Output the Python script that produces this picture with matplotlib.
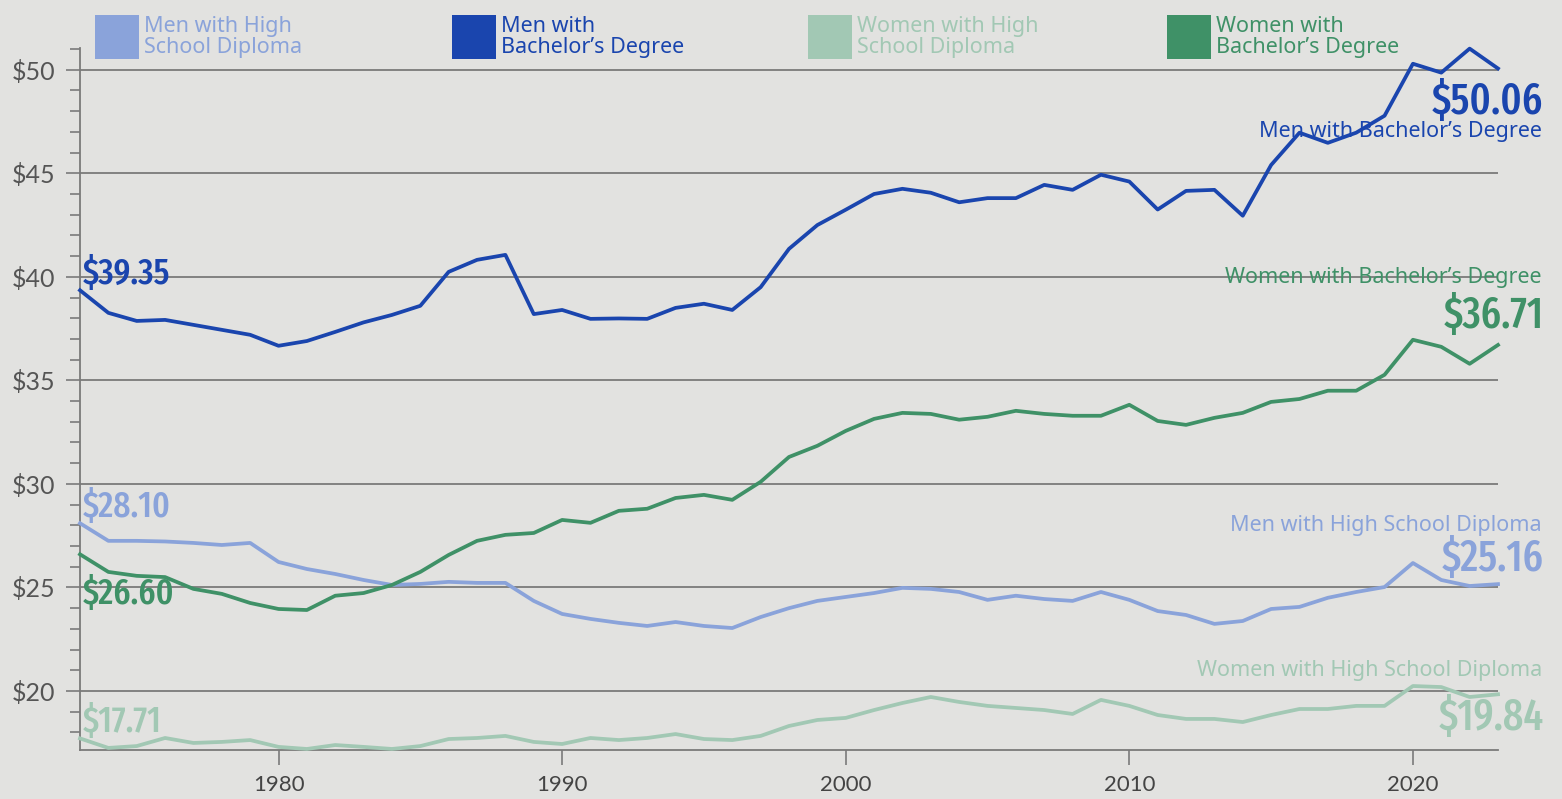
import matplotlib
matplotlib.use('Agg')
import matplotlib.pyplot as plt
from matplotlib import font_manager
from matplotlib.patches import Rectangle
from matplotlib.ticker import MultipleLocator

years = list(range(1973, 2024))

men_hs = [28.10, 27.25, 27.25, 27.22, 27.15, 27.05, 27.15, 26.23, 25.89, 25.65,
          25.36, 25.12, 25.17, 25.27, 25.22, 25.22, 24.35, 23.72, 23.48, 23.29,
          23.14, 23.33, 23.14, 23.04, 23.57, 24.00, 24.35, 24.54, 24.73, 24.98,
          24.93, 24.78, 24.40, 24.60, 24.44, 24.35, 24.78, 24.40, 23.86, 23.67,
          23.24, 23.38, 23.96, 24.06, 24.50, 24.78, 25.02, 26.18, 25.36, 25.07,
          25.16]
men_ba = [39.35, 38.26, 37.87, 37.92, 37.68, 37.44, 37.20, 36.67, 36.90, 37.34,
          37.80, 38.16, 38.60, 40.24, 40.82, 41.06, 38.20, 38.40, 37.97, 37.99,
          37.97, 38.50, 38.70, 38.40, 39.50, 41.35, 42.50, 43.24, 44.00, 44.25,
          44.06, 43.60, 43.80, 43.80, 44.44, 44.20, 44.93, 44.60, 43.25, 44.15,
          44.20, 42.95, 45.40, 46.96, 46.47, 46.96, 47.78, 50.29, 49.86, 51.02,
          50.06]
women_hs = [17.71, 17.25, 17.34, 17.73, 17.49, 17.54, 17.63, 17.30, 17.20, 17.39,
            17.30, 17.20, 17.34, 17.68, 17.73, 17.83, 17.54, 17.44, 17.73, 17.63,
            17.73, 17.92, 17.68, 17.63, 17.83, 18.31, 18.60, 18.70, 19.08, 19.42,
            19.71, 19.47, 19.28, 19.18, 19.08, 18.89, 19.57, 19.28, 18.84, 18.65,
            18.65, 18.50, 18.84, 19.13, 19.13, 19.28, 19.28, 20.24, 20.19, 19.71,
            19.84]
women_ba = [26.60, 25.75, 25.56, 25.50, 24.93, 24.69, 24.25, 23.96, 23.91, 24.60,
            24.73, 25.12, 25.75, 26.57, 27.25, 27.54, 27.63, 28.26, 28.12, 28.70,
            28.80, 29.32, 29.47, 29.23, 30.10, 31.30, 31.84, 32.56, 33.14, 33.43,
            33.38, 33.10, 33.24, 33.53, 33.38, 33.29, 33.29, 33.82, 33.04, 32.85,
            33.19, 33.43, 33.96, 34.10, 34.50, 34.50, 35.27, 36.96, 36.62, 35.80,
            36.71]

names = ["Men with High School Diploma", "Men with Bachelor\u2019s Degree",
         "Women with High School Diploma", "Women with Bachelor\u2019s Degree"]
legend_labels = ["Men with High\nSchool Diploma", "Men with\nBachelor\u2019s Degree",
                 "Women with High\nSchool Diploma", "Women with\nBachelor\u2019s Degree"]
colors = ["#8aa3da", "#1a45ae", "#a2c8b4", "#3f9167"]
series = [men_hs, men_ba, women_hs, women_ba]

bg = "#e2e2e0"
grid_col = "#7a7a7a"
label_font = "Noto Sans"


# narrowest installed face for the big numbers
def pick_narrow():
    files = [f.fname for f in font_manager.fontManager.ttflist]
    bad = ('italic', 'oblique', 'light', 'thin', 'black', 'bold')
    prefs = [('extracondensed', 'medium'), ('extracondensed', 'regular'),
             ('extracondensed',), ('semicondensed', 'medium'), ('condensed',), ('narrow',)]
    for keys in prefs:
        for fn in sorted(files):
            low = fn.lower().replace('-', '').replace('_', '')
            base = low.rsplit('/', 1)[-1]
            if all(k in base for k in keys):
                rest = base
                for k in keys:
                    rest = rest.replace(k, '')
                if 'medium' in keys or not any(b in rest for b in bad):
                    if 'semi' in base and 'semicondensed' not in keys:
                        continue
                    return fn
    return None


num_file = pick_narrow()
if num_file:
    num_prop = font_manager.FontProperties(fname=num_file)
else:
    num_prop = font_manager.FontProperties(family="DejaVu Sans", stretch='condensed')

fig = plt.figure(figsize=(15.62, 7.99), dpi=100, facecolor=bg)
ax = fig.add_axes([80 / 1562, 1 - 750 / 799, 1418 / 1562, 702 / 799])
ax.set_facecolor(bg)

for vals, col in zip(series, colors):
    ax.plot(years, vals, color=col, lw=2.7, clip_on=False, zorder=3)

ax.set_xlim(1973, 2023)
ax.set_ylim(17.15, 51.05)

for s in ['top', 'right']:
    ax.spines[s].set_visible(False)
for s in ['left', 'bottom']:
    ax.spines[s].set_color(grid_col)
    ax.spines[s].set_linewidth(1.3)

ax.yaxis.set_minor_locator(MultipleLocator(1))
ax.set_yticks([20, 25, 30, 35, 40, 45, 50])
ax.set_yticklabels(["$%d" % v for v in [20, 25, 30, 35, 40, 45, 50]])
ax.set_xticks([1980, 1990, 2000, 2010, 2020])
ax.tick_params(axis='y', which='major', length=10, width=1.2, color=grid_col, pad=8,
               labelsize=18, labelcolor="#555555")
ax.tick_params(axis='y', which='minor', length=7, width=1.2, color=grid_col)
ax.tick_params(axis='x', which='major', length=11, width=1.2, color=grid_col, pad=7,
               labelsize=16, labelcolor="#444444")
for lab in ax.get_yticklabels() + ax.get_xticklabels():
    lab.set_family("Lato")
ax.grid(axis='y', which='major', color=grid_col, lw=1.3, zorder=1)

# value labels at the start
start_pos = [28.9, 40.15, 18.5, 24.7]
for vals, col, yy in zip(series, colors, start_pos):
    ax.text(1973.1, yy, "$%.2f" % vals[0], color=col, fontproperties=num_prop,
            fontsize=26, ha='left', va='center', zorder=4)

# names and value labels at the end
end_name_y = [27.97, 47.0, 21.0, 39.95]
end_val_y = [26.38, 48.45, 18.7, 38.1]
for name, vals, col, ny, vy in zip(names, series, colors, end_name_y, end_val_y):
    ax.text(2024.55, ny, name, color=col, fontsize=15.5, family=label_font,
            ha='right', va='center', clip_on=False, zorder=4)
    ax.text(2024.6, vy, "$%.2f" % vals[-1], color=col, fontproperties=num_prop,
            fontsize=31, ha='right', va='center', clip_on=False, zorder=4)

# legend across the top
leg_x = [95, 452, 808, 1167]
for lx, lab, col in zip(leg_x, legend_labels, colors):
    fig.add_artist(Rectangle((lx / 1562, 1 - 59 / 799), 44 / 1562, 44 / 799,
                             transform=fig.transFigure, color=col, lw=0))
    fig.text((lx + 49) / 1562, 1 - 37 / 799, lab, color=col, fontsize=15.5,
             family=label_font, ha='left', va='center', linespacing=0.95)

fig.savefig("out.png", dpi=100, facecolor=bg)
